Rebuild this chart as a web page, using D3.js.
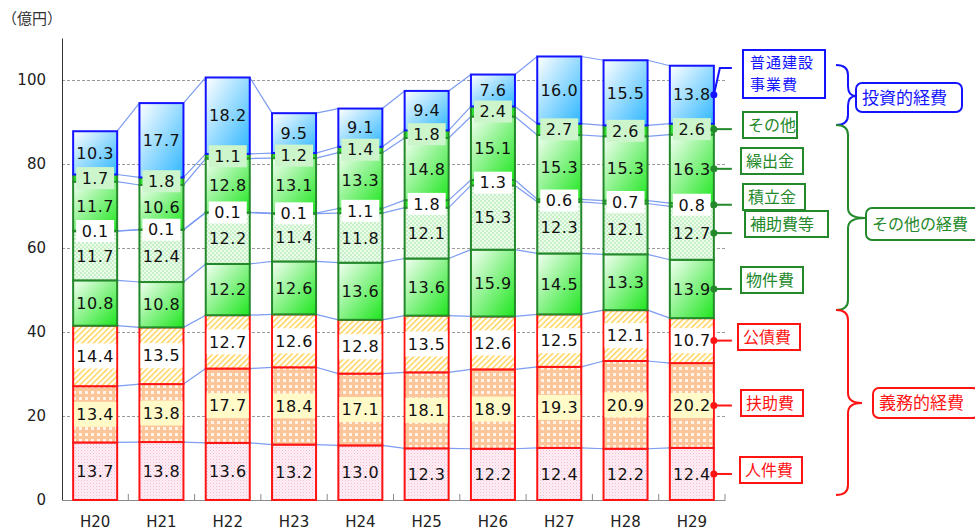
<!DOCTYPE html>
<meta charset="utf-8">
<style>
body { margin: 0; background: #fff; }
svg { display: block; }
.num { font: 16px "DejaVu Sans", sans-serif; fill: #111; letter-spacing: 0.5px; }
.tick text { font: 15px "DejaVu Sans", sans-serif; fill: #222; }
.jp { font-family: "Noto Sans CJK JP", sans-serif; }
</style>
<svg width="975" height="531"></svg>
<script src="https://cdn.jsdelivr.net/npm/d3@7"></script>
<script>
// 歳出の推移（性質別）
var years = ["H20", "H21", "H22", "H23", "H24", "H25", "H26", "H27", "H28", "H29"];
var names = ["人件費", "扶助費", "公債費", "物件費", "補助費等", "積立金", "繰出金", "その他", "普通建設事業費"];

var jinkenhi     = [13.7, 13.8, 13.6, 13.2, 13.0, 12.3, 12.2, 12.4, 12.2, 12.4];
var fujohi       = [13.4, 13.8, 17.7, 18.4, 17.1, 18.1, 18.9, 19.3, 20.9, 20.2];
var kosaihi      = [14.4, 13.5, 12.7, 12.6, 12.8, 13.5, 12.6, 12.5, 12.1, 10.7];
var bukkenhi     = [10.8, 10.8, 12.2, 12.6, 13.6, 13.6, 15.9, 14.5, 13.3, 13.9];
var hojohi       = [11.7, 12.4, 12.2, 11.4, 11.8, 12.1, 15.3, 12.3, 12.1, 12.7];
var tsumitatekin = [0.1, 0.1, 0.1, 0.1, 1.1, 1.8, 1.3, 0.6, 0.7, 0.8];
var kuridashikin = [11.7, 10.6, 12.8, 13.1, 13.3, 14.8, 15.1, 15.3, 15.3, 16.3];
var sonota       = [1.7, 1.8, 1.1, 1.2, 1.4, 1.8, 2.4, 2.7, 2.6, 2.6];
var futsuKensetsu = [10.3, 17.7, 18.2, 9.5, 9.1, 9.4, 7.6, 16.0, 15.5, 13.8];

var yTicks = [0, 20, 40, 60, 80, 100];

var seriesVals = [jinkenhi, fujohi, kosaihi, bukkenhi, hojohi, tsumitatekin, kuridashikin, sonota, futsuKensetsu];

var table = years.map(function(y, i) {
  var row = {year: y};
  names.forEach(function(n, k) { row[n] = seriesVals[k][i]; });
  return row;
});

var RED = "#ff1414", GREEN = "#23892a", BLUE = "#1414ff";

// fill / border / label box style per series
var style = [
  {fill: "url(#pat-pink)",   stroke: RED,   box: null},
  {fill: "url(#pat-orange)", stroke: RED,   box: "#fffac8", full: true},
  {fill: "url(#pat-hatch)",  stroke: RED,   box: "#ffffff", full: true},
  {fill: "url(#grad-green)", stroke: GREEN, box: null},
  {fill: "url(#pat-lgreen)", stroke: GREEN, box: null},
  {fill: "#2ee02e",          stroke: GREEN, box: "#ffffff"},
  {fill: "url(#grad-green)", stroke: GREEN, box: null},
  {fill: "#2ee02e",          stroke: GREEN, box: "#ccf5cc"},
  {fill: "url(#grad-blue)",  stroke: BLUE,  box: null}
];

var svg = d3.select("svg");
var plot = {left: 62, right: 725, top: 38, bottom: 500};

var x = d3.scaleBand().domain(years)
    .range([plot.left, plot.right])
    .paddingInner(0.336).paddingOuter(0.168);
var y = d3.scaleLinear().domain([0, 110]).range([plot.bottom, plot.top]);
var bw = x.bandwidth();

var stacked = d3.stack().keys(names)(table);

// ---- defs: patterns and gradients
var defs = svg.append("defs");

var pink = defs.append("pattern").attr("id", "pat-pink").attr("patternUnits", "userSpaceOnUse")
    .attr("width", 3).attr("height", 3);
pink.append("rect").attr("width", 3).attr("height", 3).attr("fill", "#feeef5");
pink.append("rect").attr("width", 1).attr("height", 1).attr("fill", "#f6b8d3");
pink.append("rect").attr("x", 1.5).attr("y", 1.5).attr("width", 1).attr("height", 1).attr("fill", "#f9d2e3");

var orange = defs.append("pattern").attr("id", "pat-orange").attr("patternUnits", "userSpaceOnUse")
    .attr("width", 6).attr("height", 6);
orange.append("rect").attr("width", 6).attr("height", 6).attr("fill", "#fdc69a");
orange.append("rect").attr("x", 1).attr("y", 1).attr("width", 3).attr("height", 3).attr("fill", "#fff4ea");

var hatch = defs.append("pattern").attr("id", "pat-hatch").attr("patternUnits", "userSpaceOnUse")
    .attr("width", 4).attr("height", 4).attr("patternTransform", "rotate(45)");
hatch.append("rect").attr("width", 4).attr("height", 4).attr("fill", "#fff");
hatch.append("rect").attr("width", 1.4).attr("height", 4).attr("fill", "#ffd04a");

var lgreen = defs.append("pattern").attr("id", "pat-lgreen").attr("patternUnits", "userSpaceOnUse")
    .attr("width", 4).attr("height", 4);
lgreen.append("rect").attr("width", 4).attr("height", 4).attr("fill", "#eefcee");
lgreen.append("rect").attr("width", 2).attr("height", 2).attr("fill", "#c6f0c6");
lgreen.append("rect").attr("x", 2).attr("y", 2).attr("width", 2).attr("height", 2).attr("fill", "#c6f0c6");

function grad(id, c0, c1) {
  var g = defs.append("linearGradient").attr("id", id)
      .attr("x1", 0).attr("y1", 0).attr("x2", 1).attr("y2", 1);
  g.append("stop").attr("offset", "0%").attr("stop-color", c0);
  g.append("stop").attr("offset", "100%").attr("stop-color", c1);
}
grad("grad-green", "#f4fff4", "#1ee61e");
grad("grad-blue", "#ffffff", "#2db6ff");

// ---- gridlines
svg.append("g").selectAll("line")
    .data(yTicks.filter(function(d) { return d > 0; }))
  .enter().append("line")
    .attr("x1", plot.left).attr("x2", plot.right)
    .attr("y1", function(d) { return y(d) + 0.5; })
    .attr("y2", function(d) { return y(d) + 0.5; })
    .attr("stroke", "#9a9a9a")
    .attr("stroke-dasharray", "3,2");

// ---- axes
var yAxis = svg.append("g")
    .attr("class", "axis")
    .attr("transform", "translate(" + plot.left + ",0)")
    .call(d3.axisLeft(y).tickValues(yTicks).tickSize(0).tickSizeOuter(0).tickPadding(16));
yAxis.select(".domain").attr("stroke", "#333");

var xAxis = svg.append("g")
    .attr("transform", "translate(0," + plot.bottom + ")")
    .call(d3.axisBottom(x).tickSize(0).tickSizeOuter(0).tickPadding(16));
xAxis.select(".domain").attr("stroke", "#8a8a8a");

svg.append("g").selectAll("line")
    .data(d3.range(1, years.length + 1))
  .enter().append("line")
    .attr("x1", function(i) { return plot.left + i * x.step(); })
    .attr("x2", function(i) { return plot.left + i * x.step(); })
    .attr("y1", plot.bottom).attr("y2", plot.bottom - 6)
    .attr("stroke", "#8a8a8a");

svg.append("text")
    .attr("class", "jp")
    .attr("x", 2).attr("y", 24)
    .attr("font-size", 15).attr("fill", "#333")
    .text("（億円）");

// ---- connector lines between adjacent bars
var conn = [];
stacked.forEach(function(s) {
  for (var i = 0; i < years.length - 1; i++) {
    conn.push({x1: x(years[i]) + bw, y1: y(s[i][1]), x2: x(years[i + 1]), y2: y(s[i + 1][1])});
  }
});
svg.append("g").selectAll("line")
    .data(conn)
  .enter().append("line")
    .attr("x1", function(d) { return d.x1; })
    .attr("y1", function(d) { return d.y1; })
    .attr("x2", function(d) { return d.x2; })
    .attr("y2", function(d) { return d.y2; })
    .attr("stroke", "#7d9cf2")
    .attr("stroke-width", 1.2);

// ---- bars
var layer = svg.append("g").selectAll("g")
    .data(stacked)
  .enter().append("g");

layer.selectAll("rect")
    .data(function(d) { return d.map(function(v) { return {k: d.index, v: v}; }); })
  .enter().append("rect")
    .attr("x", function(d) { return x(d.v.data.year); })
    .attr("y", function(d) { return y(d.v[1]); })
    .attr("width", bw)
    .attr("height", function(d) { return y(d.v[0]) - y(d.v[1]); })
    .attr("fill", function(d) { return style[d.k].fill; })
    .attr("stroke", function(d) { return style[d.k].stroke; })
    .attr("stroke-width", 2);

// ---- value labels
var labels = [];
stacked.forEach(function(s) {
  s.forEach(function(v) {
    labels.push({k: s.index, cx: x(v.data.year) + bw / 2, cy: y((v[0] + v[1]) / 2), val: v[1] - v[0]});
  });
});

var lab = svg.append("g").selectAll("g")
    .data(labels)
  .enter().append("g")
    .attr("transform", function(d) { return "translate(" + d.cx + "," + d.cy + ")"; });

lab.filter(function(d) { return style[d.k].box; })
  .append("rect")
    .attr("x", function(d) { return style[d.k].full ? -bw / 2 + 1 : -19; })
    .attr("y", function(d) { return style[d.k].full ? -12.5 : -11; })
    .attr("width", function(d) { return style[d.k].full ? bw - 2 : 38; })
    .attr("height", function(d) { return style[d.k].full ? 25 : 22; })
    .attr("fill", function(d) { return style[d.k].box; });

lab.append("text")
    .attr("class", "num")
    .attr("text-anchor", "middle")
    .attr("dy", "0.36em")
    .text(function(d) { return d3.format(".1f")(d.val); });

// ---- legend callouts on the right
var last = years.length - 1;
var edge = x(years[last]) + bw;
var legend = [
  {k: 8, lines: ["普通建設", "事業費"], bx: 743, cy: 74, w: 82, h: 48, ly: 68},
  {k: 7, lines: ["その他"],   bx: 743, cy: 125, w: 54},
  {k: 6, lines: ["繰出金"],   bx: 741, cy: 161, w: 62},
  {k: 5, lines: ["積立金"],   bx: 743, cy: 197, w: 62},
  {k: 4, lines: ["補助費等"], bx: 745, cy: 224, w: 83},
  {k: 3, lines: ["物件費"],   bx: 741, cy: 280, w: 62},
  {k: 2, lines: ["公債費"],   bx: 738, cy: 337, w: 62},
  {k: 1, lines: ["扶助費"],   bx: 741, cy: 403, w: 62},
  {k: 0, lines: ["人件費"],   bx: 740, cy: 470, w: 62}
];

var lg = svg.append("g").selectAll("g")
    .data(legend)
  .enter().append("g");

lg.each(function(d) {
  var g = d3.select(this);
  var s = stacked[d.k][last];
  var dy = y((s[0] + s[1]) / 2);
  var c = style[d.k].stroke;
  var ly = d.ly !== undefined ? d.ly : dy;
  var pts = d.ly !== undefined
      ? [[edge, dy], [edge + 6, ly], [edge + 18, ly]]
      : [[edge, dy], [edge + 18, dy]];
  g.append("path")
      .attr("d", d3.line()(pts))
      .attr("fill", "none").attr("stroke", c).attr("stroke-width", 2);
  g.append("circle").attr("cx", edge).attr("cy", dy).attr("r", 3.5).attr("fill", c);
  var h = d.h || 26;
  var multi = d.lines.length > 1;
  g.append("rect")
      .attr("x", d.bx).attr("y", d.cy - h / 2)
      .attr("width", d.w).attr("height", h)
      .attr("fill", "#fff").attr("stroke", c).attr("stroke-width", 2);
  d.lines.forEach(function(t, j) {
    g.append("text")
        .attr("class", "jp")
        .attr("x", d.bx + (multi ? 7 : 5))
        .attr("y", d.cy + (j - (d.lines.length - 1) / 2) * 22)
        .attr("dy", "0.36em")
        .attr("font-size", multi ? 15 : 16)
        .attr("letter-spacing", multi ? 1 : 0)
        .attr("fill", c)
        .text(t);
  });
});

// ---- braces with group names
function brace(x0, y0, y1, tx, ty) {
  var xm = x0 + 12, r = 10;
  return "M" + x0 + "," + y0 +
    " Q" + xm + "," + y0 + " " + xm + "," + (y0 + r) +
    " L" + xm + "," + (ty - r) +
    " Q" + xm + "," + ty + " " + tx + "," + ty +
    " Q" + xm + "," + ty + " " + xm + "," + (ty + r) +
    " L" + xm + "," + (y1 - r) +
    " Q" + xm + "," + y1 + " " + x0 + "," + y1;
}

var groups = [
  {name: "投資的経費",   c: BLUE,  y0: 65,  y1: 125, tx: 856, ty: 96,  bx: 856, by: 83,  w: 106, h: 29, fs: 17},
  {name: "その他の経費", c: GREEN, y0: 125, y1: 310, tx: 865, ty: 218, bx: 866, by: 208, w: 114, h: 32, fs: 16},
  {name: "義務的経費",   c: RED,   y0: 310, y1: 495, tx: 862, ty: 403, bx: 873, by: 388, w: 106, h: 30, fs: 17}
];

var gg = svg.append("g").selectAll("g")
    .data(groups)
  .enter().append("g");

gg.append("path")
    .attr("d", function(d) { return brace(836, d.y0, d.y1, d.tx, d.ty); })
    .attr("fill", "none")
    .attr("stroke", function(d) { return d.c; })
    .attr("stroke-width", 2);

gg.append("rect")
    .attr("x", function(d) { return d.bx; })
    .attr("y", function(d) { return d.by; })
    .attr("width", function(d) { return d.w; })
    .attr("height", function(d) { return d.h; })
    .attr("rx", 6)
    .attr("fill", "#fff")
    .attr("stroke", function(d) { return d.c; })
    .attr("stroke-width", 2);

gg.append("text")
    .attr("class", "jp")
    .attr("x", function(d) { return d.bx + 6; })
    .attr("y", function(d) { return d.by + d.h / 2; })
    .attr("dy", "0.36em")
    .attr("font-size", function(d) { return d.fs; })
    .attr("fill", function(d) { return d.c; })
    .text(function(d) { return d.name; })
</script>
